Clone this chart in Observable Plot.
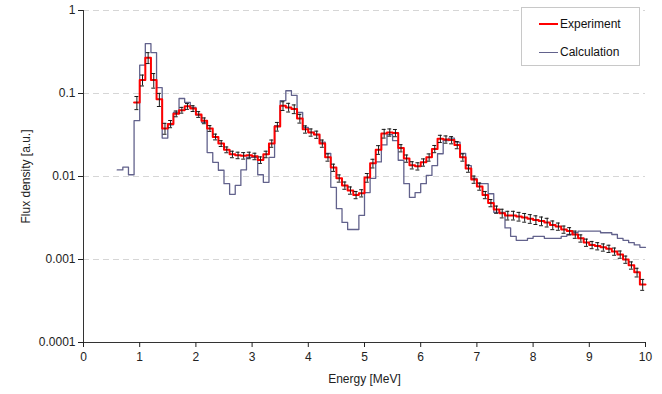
<!DOCTYPE html>
<html><head><meta charset="utf-8">
<script src="https://cdn.jsdelivr.net/npm/d3@7"></script>
<script src="https://cdn.jsdelivr.net/npm/@observablehq/plot@0.6"></script>
<style>
body{margin:0;background:#fff;font-family:"Liberation Sans",Arial,sans-serif;}
#wrap{position:relative;width:662px;height:394px;}
#legend{position:absolute;left:521px;top:7px;width:119px;height:59px;border:1px solid #c8c8c8;box-sizing:border-box;background:#fff;font-size:12px;color:#111;}
.item{position:absolute;left:17px;display:flex;align-items:center;height:14px;}
.sw{width:19px;margin-right:2px;}
</style></head><body><div id="wrap"></div>
<script>
const binWidth = 0.1;
const expStart = 0.9;
const expValues = [0.078,0.145,0.27,0.145,0.085,0.038,0.043,0.057,0.063,0.07,
0.066,0.056,0.047,0.038,0.030,0.025,0.021,0.0185,0.018,0.0178,
0.018,0.0175,0.0158,0.0185,0.025,0.04,0.071,0.068,0.065,0.05,
0.037,0.034,0.032,0.025,0.017,0.0128,0.0095,0.0078,0.0068,0.006,
0.0063,0.0097,0.0144,0.021,0.033,0.034,0.0335,0.022,0.0165,0.0137,
0.0133,0.0148,0.017,0.0215,0.0285,0.028,0.0275,0.024,0.017,0.0125,
0.0092,0.0076,0.006,0.0048,0.004,0.0036,0.0034,0.0034,0.0033,0.0032,
0.0031,0.003,0.0029,0.0028,0.0026,0.0025,0.0023,0.0022,0.002,0.0018,
0.0016,0.0015,0.00145,0.0014,0.00135,0.00125,0.00115,0.001,0.00085,0.0007,
0.0005];
const expRelErr = [0.18,0.15,0.15,0.2,0.18,0.15,0.1,0.08,0.08,0.08,
0.08,0.08,0.08,0.08,0.08,0.08,0.08,0.09,0.09,0.09,
0.09,0.09,0.09,0.09,0.1,0.12,0.12,0.12,0.12,0.12,
0.1,0.1,0.1,0.1,0.1,0.1,0.1,0.1,0.1,0.1,
0.1,0.12,0.12,0.12,0.12,0.1,0.1,0.1,0.1,0.1,
0.1,0.1,0.1,0.1,0.1,0.1,0.1,0.1,0.1,0.1,
0.1,0.1,0.1,0.1,0.1,0.12,0.12,0.12,0.12,0.12,
0.12,0.12,0.12,0.12,0.12,0.1,0.1,0.1,0.1,0.1,
0.1,0.1,0.1,0.1,0.1,0.1,0.1,0.1,0.1,0.12,
0.15];
const calcStart = 0.6;
const calcValues = [0.012,0.013,0.0105,0.047,0.22,0.40,0.31,0.118,0.029,0.042,
0.059,0.087,0.078,0.068,0.055,0.045,0.0194,0.0148,0.0119,0.0082,
0.0061,0.0078,0.012,0.017,0.017,0.0105,0.0085,0.017,0.041,0.082,
0.108,0.095,0.059,0.039,0.034,0.032,0.026,0.019,0.0074,0.0041,
0.0028,0.0023,0.0023,0.0034,0.0064,0.0095,0.015,0.024,0.032,0.027,
0.0157,0.0082,0.0056,0.0064,0.0082,0.0103,0.0135,0.0188,0.027,0.029,
0.026,0.019,0.0135,0.0095,0.0082,0.0082,0.0062,0.0037,0.0037,0.0024,
0.0019,0.0017,0.0017,0.0018,0.0019,0.0019,0.0018,0.0018,0.0018,0.0019,
0.002,0.0021,0.0022,0.0022,0.0022,0.0022,0.0021,0.0021,0.002,0.0018,
0.0017,0.0016,0.0015,0.0014];
const xTicks = [0,1,2,3,4,5,6,7,8,9,10];
const yTicks = [1,0.1,0.01,0.001,0.0001];
const yTickLabels = ["1","0.1","0.01","0.001","0.0001"];
const seriesNames = ["Experiment","Calculation"];
const seriesColors = ["#ff0000","#62628c"];

function stepPoints(start, vals){
  const pts = vals.map((v,i)=>({x:+(start+i*binWidth).toFixed(3), y:v}));
  pts.push({x:+(start+vals.length*binWidth).toFixed(3), y:vals[vals.length-1]});
  return pts;
}
const expPts = stepPoints(expStart, expValues);
const calcPts = stepPoints(calcStart, calcValues);
const bars = expValues.map((v,i)=>{
  const c = expStart + (i+0.5)*binWidth;
  return {x:c, lo:v*(1-expRelErr[i]), hi:v*(1+expRelErr[i]), xa:c-0.035, xb:c+0.035};
});

const chart = Plot.plot({
  width:662, height:394,
  marginLeft:83, marginRight:17, marginTop:10, marginBottom:52,
  style:{fontFamily:"'Liberation Sans', Arial, sans-serif", fontSize:"12px", background:"#fff", color:"#222"},
  x:{domain:[0,10]},
  y:{type:"log", domain:[0.0001,1]},
  marks:[
    Plot.ruleY(yTicks.slice(0,4), {stroke:"#d6d6d6", strokeDasharray:"6,4"}),
    Plot.line(calcPts, {x:"x", y:"y", curve:"step-after", stroke:seriesColors[1], strokeWidth:1.3}),
    Plot.line(expPts, {x:"x", y:"y", curve:"step-after", stroke:seriesColors[0], strokeWidth:2}),
    Plot.ruleX(bars, {x:"x", y1:"lo", y2:"hi", stroke:"#1a1a1a", strokeWidth:1}),
    Plot.ruleY(bars, {y:"lo", x1:"xa", x2:"xb", stroke:"#1a1a1a", strokeWidth:1}),
    Plot.ruleY(bars, {y:"hi", x1:"xa", x2:"xb", stroke:"#1a1a1a", strokeWidth:1}),
    Plot.ruleX([0], {stroke:"#333"}),
    Plot.ruleY([0.0001], {stroke:"#333"}),
    Plot.axisX({ticks:xTicks, tickSize:5, tickPadding:5, fontSize:12, label:"Energy [MeV]", labelAnchor:"center", labelOffset:40, labelArrow:"none"}),
    Plot.axisY({ticks:yTicks, tickFormat:d=>yTickLabels[yTicks.indexOf(d)], tickSize:5, tickPadding:3, fontSize:12, label:"Flux density [a.u.]", labelAnchor:"center", labelOffset:62, labelArrow:"none"})
  ]
});
const wrap = document.getElementById("wrap");
wrap.appendChild(chart);
const lg = document.createElement("div");
lg.id = "legend";
seriesNames.forEach((n,i)=>{
  const it = document.createElement("div");
  it.className = "item";
  it.style.top = (i===0 ? 9 : 37) + "px";
  const sw = document.createElement("span");
  sw.className = "sw";
  sw.style.borderTop = (i===0 ? 2 : 1.3) + "px solid " + seriesColors[i];
  const t = document.createElement("span");
  t.textContent = n;
  it.appendChild(sw); it.appendChild(t);
  lg.appendChild(it);
});
wrap.appendChild(lg);
</script></body></html>
